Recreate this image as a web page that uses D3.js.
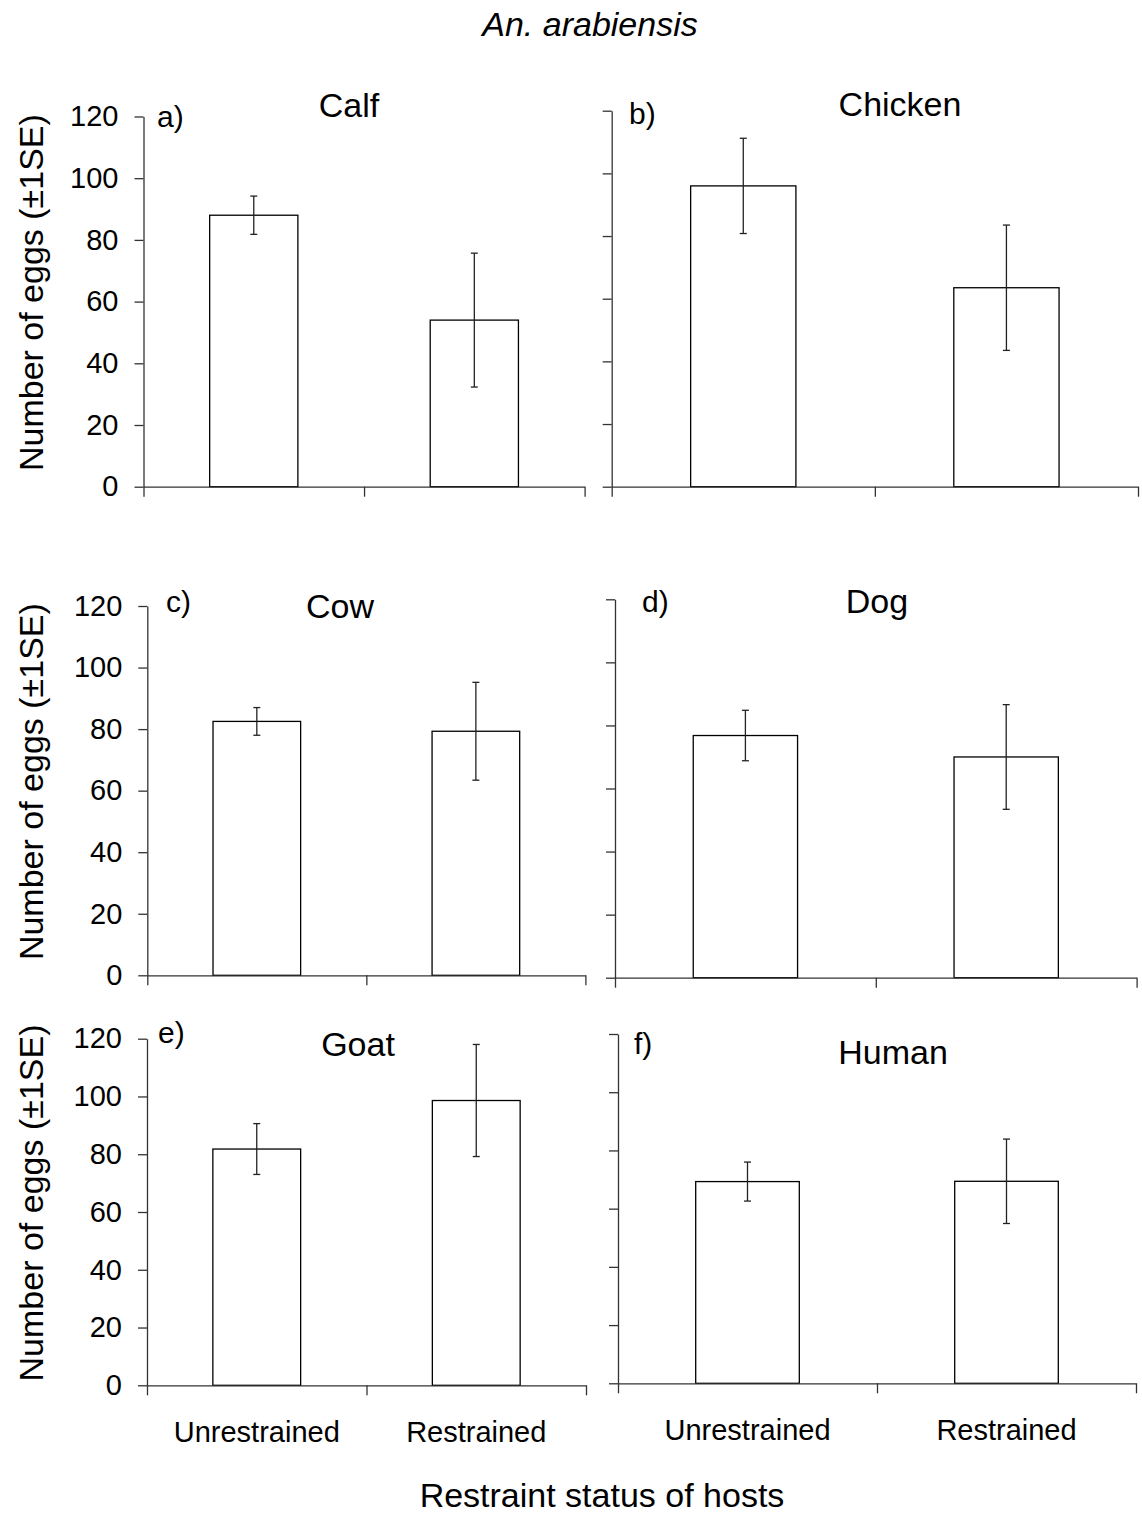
<!DOCTYPE html>
<html><head><meta charset="utf-8">
<script src="https://cdn.jsdelivr.net/npm/d3@7"></script>
<style>
body{margin:0;background:#fff}
svg{display:block}
text{font-family:"Liberation Sans",Arial,sans-serif;fill:#000}
</style>
</head><body>
<svg id="chart" width="1142" height="1522"></svg>
<script>
// ---- data ----
const hosts = ["Calf", "Chicken", "Cow", "Dog", "Goat", "Human"];
const panelLetters = ["a)", "b)", "c)", "d)", "e)", "f)"];
const categories = ["Unrestrained", "Restrained"];
const unrestrainedMean = [88.0, 96.0, 82.5, 76.8, 81.8, 69.3];
const restrainedMean   = [54.0, 63.5, 79.3, 70.0, 98.6, 69.4];
const unrestrainedSE   = [6.2, 15.2, 4.5, 8.0, 8.8, 6.7];
const restrainedSE     = [21.7, 20.0, 15.9, 16.6, 19.4, 14.5];
const yTicks = [0, 20, 40, 60, 80, 100, 120];
const mainTitle = "An. arabiensis";
const yTitle = "Number of eggs (\u00b11SE)";
const xTitle = "Restraint status of hosts";

// ---- layout (pixel geometry of each panel) ----
const layout = [
  {x0:143.5, x1:584.6, yb:486.7, yt:116.5, lx:157, ly:127,  tx:349, ty:117,  left:true,  bottom:false},
  {x0:611.7, x1:1138,  yb:486.7, yt:110.7, lx:629, ly:124,  tx:900, ty:116,  left:false, bottom:false},
  {x0:147.3, x1:585.4, yb:975.3, yt:606,   lx:166, ly:612,  tx:340, ty:618,  left:true,  bottom:false},
  {x0:615,   x1:1136.6,yb:977.7, yt:599.3, lx:642, ly:612,  tx:877, ty:613,  left:false, bottom:false},
  {x0:147,   x1:586,   yb:1385.3,yt:1038.7,lx:158, ly:1043, tx:358, ty:1056, left:true,  bottom:true},
  {x0:618,   x1:1136,  yb:1383.3,yt:1034,  lx:634, ly:1054, tx:893, ty:1064, left:false, bottom:true}
];

const svg = d3.select("#chart");
const AX = "#333";

svg.append("text").attr("x", 590).attr("y", 36).attr("text-anchor", "middle")
  .attr("font-size", 34).attr("font-style", "italic").text(mainTitle);

hosts.forEach((host, i) => {
  const L = layout[i];
  const g = svg.append("g");
  const y = d3.scaleLinear().domain([0, 120]).range([L.yb, L.yt]);
  const x = d3.scaleBand().domain(categories).range([L.x0, L.x1])
    .paddingInner(0.6).paddingOuter(0.3);
  const xEdge = d3.scaleLinear().domain([0, categories.length]).range([L.x0, L.x1]);

  const rows = categories.map((c, k) => ({
    cat: c,
    mean: k === 0 ? unrestrainedMean[i] : restrainedMean[i],
    se: k === 0 ? unrestrainedSE[i] : restrainedSE[i]
  }));

  // bars
  g.selectAll("rect.bar").data(rows).join("rect")
    .attr("class", "bar")
    .attr("x", d => x(d.cat))
    .attr("width", x.bandwidth())
    .attr("y", d => y(d.mean))
    .attr("height", d => y(0) - y(d.mean))
    .attr("fill", "#fff").attr("stroke", "#000").attr("stroke-width", 1.3);

  // error bars
  const eb = g.selectAll("g.err").data(rows).join("g").attr("class", "err")
    .attr("stroke", "#222").attr("stroke-width", 1.3);
  eb.append("line")
    .attr("x1", d => x(d.cat) + x.bandwidth() / 2).attr("x2", d => x(d.cat) + x.bandwidth() / 2)
    .attr("y1", d => y(d.mean - d.se)).attr("y2", d => y(d.mean + d.se));
  [(d) => d.mean - d.se, (d) => d.mean + d.se].forEach(fn => {
    eb.append("line")
      .attr("x1", d => x(d.cat) + x.bandwidth() / 2 - 3.5)
      .attr("x2", d => x(d.cat) + x.bandwidth() / 2 + 3.5)
      .attr("y1", d => y(fn(d))).attr("y2", d => y(fn(d)));
  });

  // y axis
  const ya = g.append("g").attr("transform", `translate(${L.x0},0)`)
    .call(d3.axisLeft(y).tickValues(yTicks).tickSize(9).tickSizeOuter(0).tickPadding(16)
      .tickFormat(L.left ? d3.format("d") : () => ""));
  ya.selectAll("path,line").attr("stroke", AX).attr("stroke-width", 1.3);
  ya.selectAll("text").attr("font-size", 29).attr("fill", "#000")
    .style("font-family", '"Liberation Sans",Arial,sans-serif');

  // x axis (ticks at category boundaries)
  const xa = g.append("g").attr("transform", `translate(0,${L.yb})`)
    .call(d3.axisBottom(xEdge).tickValues(d3.range(categories.length + 1))
      .tickSize(10).tickSizeOuter(0).tickFormat(() => ""));
  xa.selectAll("path,line").attr("stroke", AX).attr("stroke-width", 1.3);

  // panel letter & host title
  g.append("text").attr("x", L.lx).attr("y", L.ly).attr("font-size", 30).text(panelLetters[i]);
  g.append("text").attr("x", L.tx).attr("y", L.ty).attr("text-anchor", "middle")
    .attr("font-size", 34).text(host);

  if (L.left) {
    const cy = (L.yb + L.yt) / 2 - 9;
    g.append("text").attr("transform", `translate(43,${cy}) rotate(-90)`)
      .attr("text-anchor", "middle").attr("font-size", 34).text(yTitle);
  }
  if (L.bottom) {
    g.selectAll("text.cat").data(categories).join("text").attr("class", "cat")
      .attr("x", c => x(c) + x.bandwidth() / 2)
      .attr("y", L.yb + 57).attr("text-anchor", "middle")
      .attr("font-size", 29).text(c => c);
  }
});

svg.append("text").attr("x", 602).attr("y", 1507).attr("text-anchor", "middle")
  .attr("font-size", 34).text(xTitle);
</script>
</body></html>
